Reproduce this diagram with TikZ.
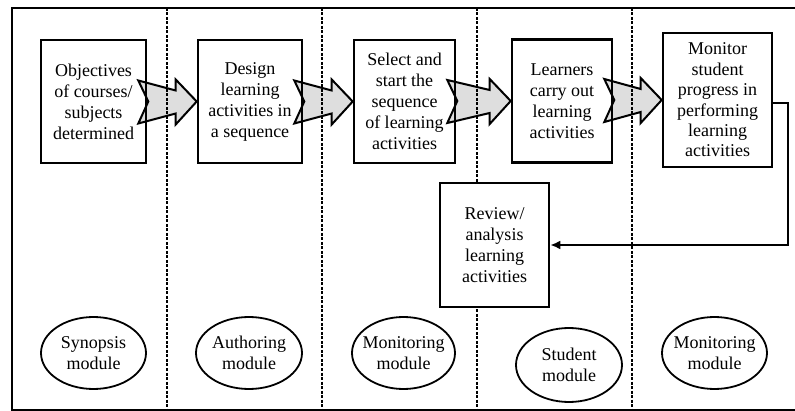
\documentclass[tikz,border=0pt]{standalone}
\usepackage{fontspec}
\setmainfont{Liberation Serif}
\usetikzlibrary{shapes.geometric,arrows.meta,calc,backgrounds}

\definecolor{arrowgray}{RGB}{222,222,222}

\tikzset{
    task/.style={draw,line width=2.6pt,rectangle,inner sep=0pt,minimum width=105pt,minimum height=123pt,align=center},
    modell/.style={draw,line width=1.8pt,ellipse,inner sep=0pt,minimum width=105pt,minimum height=72pt,align=center},
    flowarr/.style={draw,line width=2pt,fill=arrowgray,line join=miter},
    sep/.style={line width=2pt,dash pattern=on 3pt off 1.5pt},
    feedback/.style={line width=2pt,-{Latex[length=10pt,width=9pt]}}
}

\newcommand\flowarrow[2]{%
    \draw[flowarr] let \p1=(#1.east), \p2=(#2.west) in
        (\x1-9pt,\y2+21pt) -- (\x1+1pt,\y2) -- (\x1-9pt,\y2-22pt) -- (\x2-21pt,\y2-12pt)
        -- (\x2-21pt,\y2-23pt) -- (\x2,\y2) -- (\x2-21pt,\y2+22pt) -- (\x2-21pt,\y2+11pt) -- cycle;
}

\begin{document}
\begin{tikzpicture}[x=1pt,y=-1pt,font=\fontsize{18}{21}\selectfont]

    \useasboundingbox (0,0) rectangle (795,411);

    \node[task] (b1) at (93.5,101.5) {Objectives\\of courses/\\subjects\\determined};
    \node[task,minimum width=104pt] (b2) at (250,101.5) {Design\\learning\\activities in\\a sequence};
    \node[task,minimum width=101pt] (b3) at (404.5,101.5) {Select and\\start the\\sequence\\of learning\\activities};
    \node[task,minimum width=100pt] (b4) at (562,101) {Learners\\carry out\\learning\\activities};
    \node[task,minimum width=109pt,minimum height=134pt,font=\fontsize{18}{20.4}\selectfont] (b5) at (717.5,100) {Monitor\\student\\progress in\\performing\\learning\\activities};
    \node[task,minimum width=109pt,minimum height=124pt,fill=white] (b6) at (494.5,245) {Review/\\analysis\\learning\\activities};

    \node[modell] (m1) at (93.5,353) {\makebox[0pt]{Synopsis}\\\makebox[0pt]{module}};
    \node[modell,minimum width=106pt] (m2) at (249,353) {\makebox[0pt]{Authoring}\\\makebox[0pt]{module}};
    \node[modell,minimum width=103pt] (m3) at (403.5,353) {\makebox[0pt]{Monitoring}\\\makebox[0pt]{module}};
    \node[modell,minimum width=106pt,minimum height=74pt] (m4) at (569,365) {\makebox[0pt]{Student}\\\makebox[0pt]{module}};
    \node[modell] (m5) at (714.5,353) {\makebox[0pt]{Monitoring}\\\makebox[0pt]{module}};

    \draw[feedback] ([yshift=-3pt]b5.east) -- ++(15,0) |- (b6.east);

    \begin{pgfonlayer}{background}
        \flowarrow{b1}{b2}
        \flowarrow{b2}{b3}
        \flowarrow{b3}{b4}
        \flowarrow{b4}{b5}
        \foreach \x in {167,322,477,632}
            \draw[sep] (\x,8) -- (\x,410);
    \end{pgfonlayer}

    \draw[line width=2pt] (795,8) -- (12,8) -- (12,410) -- (795,410);

\end{tikzpicture}
\end{document}
